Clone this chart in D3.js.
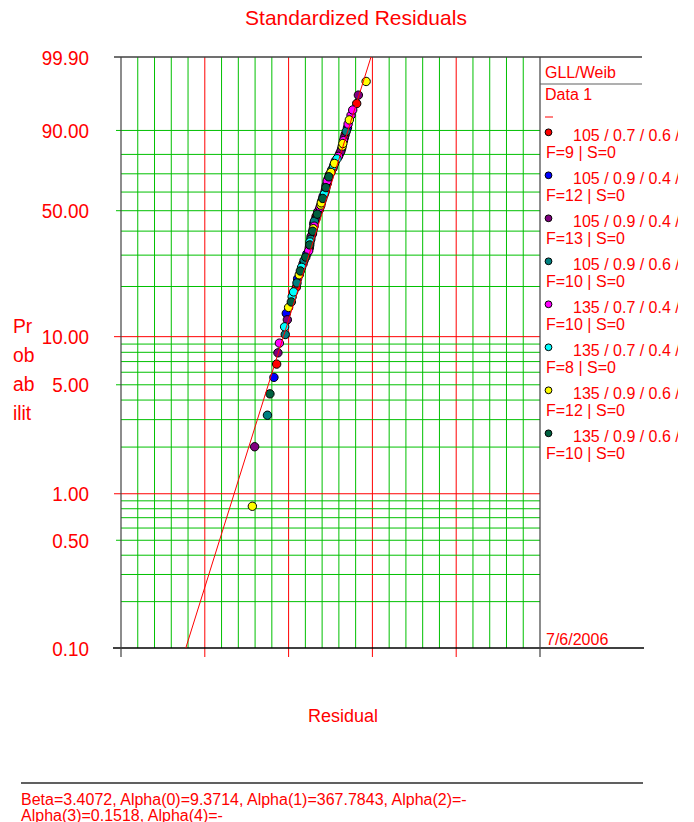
<!DOCTYPE html>
<html>
<head>
<meta charset="utf-8">
<script src="https://cdn.jsdelivr.net/npm/d3@7/dist/d3.min.js"></script>
<style>
    body { margin: 0; background: #fff; }
    text { font-family: "Liberation Sans", Arial, sans-serif; fill: #ff0000; }
</style>
</head>
<body>
<svg id="chart" width="694" height="822"></svg>
<script>
(function() {
    'use strict';

    /******************************************************************
        data: [standardized residual, unreliability %]
     ******************************************************************/
    var data105_07_06 = [[-2.57,6.75],[-1.63,19.79],[-1.01,32.82],[-0.69,47.04],[-0.24,61.26],
        [-0.05,69.55],[0.43,80.21],[0.70,88.51],[1.25,96.80]];
    var data105_09_04a = [[-2.70,5.57],[-2.11,13.86],[-1.57,22.16],[-1.13,30.45],[-0.86,38.74],
        [-0.80,43.48],[-0.53,50.59],[-0.35,57.70],[-0.15,64.81],[0.23,76.66],[0.53,82.58],[0.81,90.88]];
    var data105_09_04b = [[-3.62,2.01],[-2.51,7.94],[-2.06,12.68],[-1.31,26.90],[-0.93,37.56],
        [-0.70,45.85],[-0.61,49.41],[-0.26,60.07],[-0.12,67.18],[0.12,73.10],[0.49,81.40],
        [0.66,87.32],[1.33,97.99]];
    var data105_09_06 = [[-3.01,3.20],[-2.16,10.31],[-1.60,20.97],[-1.26,28.08],[-0.94,36.37],
        [-0.77,44.67],[-0.41,55.33],[-0.21,63.63],[0.05,71.92],[0.75,89.69]];
    var data135_07_04a = [[-2.44,9.12],[-1.04,31.64],[-0.78,42.30],[-0.50,51.78],[-0.16,66.00],
        [0.38,79.03],[0.62,86.14],[0.84,92.06],[0.98,94.43],[1.06,95.62]];
    var data135_07_04b = [[-2.19,11.49],[-1.83,17.42],[-1.76,18.60],[-1.38,25.71],[-0.98,35.19],
        [-0.29,58.89],[0.15,74.29],[0.31,77.84]];
    var data135_09_06a = [[-3.73,0.83],[-2.00,15.05],[-1.49,23.34],[-0.82,41.11],[-0.46,52.96],
        [-0.44,54.15],[0.02,70.73],[0.19,75.47],[0.56,83.77],[0.59,84.95],[0.90,93.25],[1.70,99.17]];
    var data135_09_06b = [[-2.89,4.38],[-1.87,16.23],[-1.44,24.53],[-1.18,29.27],[-0.99,34.00],
        [-0.85,39.93],[-0.63,48.22],[-0.37,56.52],[-0.22,62.44],[-0.08,68.36]];

    var seriesLabels = ['105 / 0.7 / 0.6 /', '105 / 0.9 / 0.4 /', '105 / 0.9 / 0.4 /', '105 / 0.9 / 0.6 /',
                        '135 / 0.7 / 0.4 /', '135 / 0.7 / 0.4 /', '135 / 0.9 / 0.6 /', '135 / 0.9 / 0.6 /'];
    var failures = [9, 12, 13, 10, 10, 8, 12, 10];
    var suspensions = [0, 0, 0, 0, 0, 0, 0, 0];
    var seriesColors = ['#ff0000', '#0000ff', '#800080', '#008080', '#ff00ff', '#00ffff', '#ffff00', '#006040'];

    var yTicks = [99.9, 90, 50, 10, 5, 1, 0.5, 0.1];
    var yTickLabels = ['99.90', '90.00', '50.00', '10.00', '5.00', '1.00', '0.50', '0.10'];
    var yMinor = [80, 70, 60, 40, 30, 20, 9, 8, 7, 6, 4, 3, 2, 0.9, 0.8, 0.7, 0.6, 0.4, 0.3, 0.2];
    var yRed = [10, 1];
    var xDomain = [-10, 10];
    var fitProbs = [0.1, 99.9];

    var footer = ['Beta=3.4072, Alpha(0)=9.3714, Alpha(1)=367.7843, Alpha(2)=-',
                  'Alpha(3)=0.1518, Alpha(4)=-'];

    var series = [data105_07_06, data105_09_04a, data105_09_04b, data105_09_06,
                  data135_07_04a, data135_07_04b, data135_09_06a, data135_09_06b];

    /******************************************************************
        scales
     ******************************************************************/
    var L = 121, R = 540, T = 57, B = 648;
    var green = '#00c000', red = '#ff0000';

    function wb(p) { return Math.log(-Math.log(1 - p / 100)); }

    var x = d3.scaleLinear().domain(xDomain).range([L, R]);
    var y = d3.scaleLinear().domain([wb(0.1), wb(99.9)]).range([B, T]);
    var py = function(p) { return y(wb(p)); };

    var svg = d3.select('#chart');

    svg.append('defs').append('clipPath').attr('id', 'plotclip')
        .append('rect').attr('x', L).attr('y', T).attr('width', R - L).attr('height', B - T);
    svg.select('defs').append('clipPath').attr('id', 'legclip')
        .append('rect').attr('x', R).attr('y', T).attr('width', 678 - R).attr('height', B - T);

    /******************************************************************
        grid
     ******************************************************************/
    var grid = svg.append('g').attr('class', 'grid');

    d3.range(xDomain[0] + 0.8, xDomain[1] - 0.4, 0.8).forEach(function(v) {
        var major = Math.abs(((v - xDomain[0]) / 4) - Math.round((v - xDomain[0]) / 4)) < 1e-6;
        grid.append('line')
            .attr('x1', x(v)).attr('x2', x(v))
            .attr('y1', T).attr('y2', major ? B + 9 : B)
            .attr('stroke', major ? red : green);
    });

    yMinor.concat([90, 50, 5, 0.5]).forEach(function(p) {
        var labeled = yTicks.indexOf(p) >= 0;
        grid.append('line')
            .attr('x1', labeled ? L - 5 : L).attr('x2', R)
            .attr('y1', py(p)).attr('y2', py(p))
            .attr('stroke', green);
    });

    yRed.forEach(function(p) {
        grid.append('line')
            .attr('x1', L - 7).attr('x2', R)
            .attr('y1', py(p)).attr('y2', py(p))
            .attr('stroke', red);
    });

    /******************************************************************
        frame
     ******************************************************************/
    var frame = svg.append('g').attr('class', 'frame');
    frame.append('line').attr('x1', L - 7).attr('x2', 642).attr('y1', T).attr('y2', T)
        .attr('stroke', '#404040').attr('stroke-width', 1.5);
    frame.append('line').attr('x1', L - 8).attr('x2', 644).attr('y1', B).attr('y2', B)
        .attr('stroke', '#000').attr('stroke-width', 1.5);
    frame.append('line').attr('x1', L).attr('x2', L).attr('y1', T).attr('y2', B + 9)
        .attr('stroke', '#404040').attr('stroke-width', 1.2);
    frame.append('line').attr('x1', R).attr('x2', R).attr('y1', T).attr('y2', B + 9)
        .attr('stroke', '#404040').attr('stroke-width', 1.2);
    frame.append('line').attr('x1', R).attr('x2', 642).attr('y1', 84).attr('y2', 84)
        .attr('stroke', '#606060').attr('stroke-width', 1.2);
    frame.append('line').attr('x1', 21).attr('x2', 643).attr('y1', 783).attr('y2', 783)
        .attr('stroke', '#606060').attr('stroke-width', 2);

    /******************************************************************
        points + fit line
     ******************************************************************/
    var plot = svg.append('g').attr('clip-path', 'url(#plotclip)');

    series.forEach(function(s, i) {
        plot.append('g').selectAll('circle')
            .data(s)
            .enter().append('circle')
                .attr('cx', function(d) { return x(d[0]); })
                .attr('cy', function(d) { return py(d[1]); })
                .attr('r', 4.2)
                .attr('fill', seriesColors[i])
                .attr('stroke', '#000')
                .attr('stroke-width', 1);
    });

    plot.append('path')
        .datum(fitProbs)
        .attr('d', d3.line()
            .x(function(p) { return x(wb(p)); })
            .y(function(p) { return py(p); }))
        .attr('fill', 'none')
        .attr('stroke', red)
        .attr('stroke-width', 1);

    /******************************************************************
        texts
     ******************************************************************/
    svg.append('text').attr('x', 356).attr('y', 25)
        .attr('text-anchor', 'middle').style('font-size', '21px')
        .text('Standardized Residuals');

    svg.selectAll('.ylab')
        .data(yTicks)
        .enter().append('text')
            .attr('class', 'ylab')
            .attr('transform', function(d) { return 'translate(89,' + (py(d) + 7.5) + ') scale(0.9,1)'; })
            .attr('text-anchor', 'end').style('font-size', '21px')
            .text(function(d, i) { return yTickLabels[i]; });

    ['Pr', 'ob', 'ab', 'ilit'].forEach(function(t, i) {
        svg.append('text')
            .attr('transform', 'translate(13,' + (333 + i * 29) + ') scale(0.92,1)')
            .style('font-size', '21px').text(t);
    });

    svg.append('text').attr('x', 343).attr('y', 722)
        .attr('text-anchor', 'middle').style('font-size', '18px')
        .text('Residual');

    footer.forEach(function(t, i) {
        svg.append('text').attr('x', 21).attr('y', 805 + i * 16)
            .style('font-size', '16px').text(t);
    });

    /******************************************************************
        legend
     ******************************************************************/
    var leg = svg.append('g').attr('clip-path', 'url(#legclip)');
    leg.append('text').attr('x', 545).attr('y', 78).style('font-size', '16px').text('GLL/Weib');
    leg.append('text').attr('x', 545).attr('y', 100).style('font-size', '16px').text('Data 1');
    leg.append('line').attr('x1', 545).attr('x2', 553).attr('y1', 117).attr('y2', 117)
        .attr('stroke', red).attr('stroke-width', 1);

    seriesLabels.forEach(function(lbl, i) {
        var cy = 132.3 + i * 43;
        leg.append('circle').attr('cx', 548.5).attr('cy', cy).attr('r', 3.4)
            .attr('fill', seriesColors[i]).attr('stroke', '#000').attr('stroke-width', 1);
        leg.append('text').attr('x', 573).attr('y', cy + 9)
            .style('font-size', '16px').text(lbl);
        leg.append('text').attr('x', 546).attr('y', cy + 26)
            .style('font-size', '16px')
            .text('F=' + failures[i] + ' | S=' + suspensions[i]);
    });

    svg.append('text').attr('x', 546).attr('y', 645).style('font-size', '16px').text('7/6/2006');
})();
</script>
</body>
</html>
